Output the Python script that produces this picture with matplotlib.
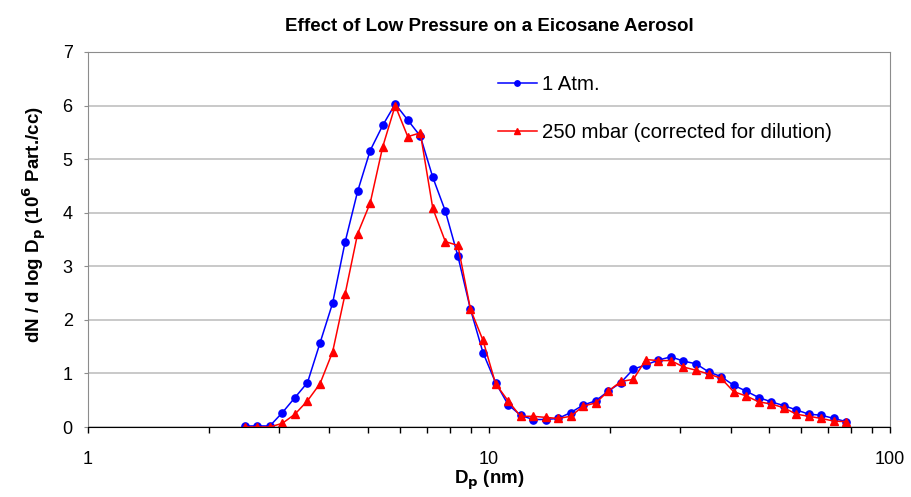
import numpy as np
import matplotlib.pyplot as plt
from matplotlib.ticker import LogLocator, NullFormatter, FixedLocator, FixedFormatter

plt.rcParams['font.family'] = ['Liberation Sans', 'DejaVu Sans']

# diametri dei canali (nm)
dp = [2.46, 2.644, 2.841, 3.053, 3.281, 3.526, 3.789, 4.072, 4.375, 4.702,
      5.053, 5.430, 5.834, 6.270, 6.738, 7.240, 7.780, 8.361, 8.985, 9.655,
      10.38, 11.15, 11.98, 12.87, 13.84, 14.87, 15.98, 17.17, 18.45, 19.83,
      21.31, 22.90, 24.60, 26.44, 28.41, 30.53, 32.81, 35.26, 37.89, 40.72,
      43.75, 47.02, 50.53, 54.30, 58.34, 62.70, 67.38, 72.40, 77.80]

# 1 Atm.
atm1 = [0.02, 0.02, 0.02, 0.27, 0.55, 0.83, 1.57, 2.31, 3.45, 4.40,
        5.16, 5.63, 6.03, 5.73, 5.43, 4.66, 4.03, 3.19, 2.20, 1.39,
        0.83, 0.42, 0.22, 0.14, 0.14, 0.16, 0.27, 0.41, 0.49, 0.67,
        0.83, 1.08, 1.16, 1.25, 1.31, 1.23, 1.18, 1.03, 0.94, 0.78,
        0.67, 0.55, 0.47, 0.40, 0.32, 0.24, 0.22, 0.16, 0.10]

# 250 mbar (corretto per diluizione)
mbar250 = [0.0, 0.0, 0.0, 0.07, 0.24, 0.49, 0.81, 1.40, 2.48, 3.61,
           4.18, 5.23, 6.00, 5.42, 5.49, 4.08, 3.46, 3.39, 2.20, 1.62,
           0.81, 0.49, 0.20, 0.20, 0.18, 0.16, 0.20, 0.39, 0.45, 0.67,
           0.85, 0.89, 1.26, 1.24, 1.24, 1.12, 1.06, 0.99, 0.91, 0.66,
           0.58, 0.47, 0.43, 0.36, 0.24, 0.20, 0.16, 0.11, 0.10]

fig = plt.figure(figsize=(9.11, 4.97), dpi=100)
ax = fig.add_axes([0.0966, 0.1408, 0.8805, 0.7546])

ax.plot(dp, atm1, color='#0000FF', lw=1.1, marker='o', ms=5.2,
        label='1 Atm.')
ax.plot(dp, mbar250, color='#FF0000', lw=1.1, marker='^', ms=6,
        label='250 mbar (corrected for dilution)')

ax.set_xscale('log')
ax.set_xlim(1, 100)
ax.set_ylim(0, 7)
ax.set_yticks(range(0, 8))
ax.xaxis.set_major_locator(FixedLocator([1, 10, 100]))
ax.xaxis.set_major_formatter(FixedFormatter(['1', '10', '100']))
ax.xaxis.set_minor_locator(LogLocator(base=10, subs=np.arange(2, 10)))
ax.xaxis.set_minor_formatter(NullFormatter())

ax.grid(axis='y', color='#c0c0c0', lw=1.2)
ax.set_axisbelow(True)
for s in ['left', 'top', 'right']:
    ax.spines[s].set_color('#8c8c8c')
ax.spines['bottom'].set_color('black')
ax.tick_params(axis='x', which='both', direction='out', length=4,
               width=1, labelsize=13, pad=13.5)
ax.tick_params(axis='y', direction='out', length=3, color='#8c8c8c',
               labelsize=13, pad=8)

ax.set_title('Effect of Low Pressure on a Eicosane Aerosol',
             fontsize=13.5, fontweight='bold', pad=15)
ax.set_xlabel('D$_\\mathbf{p}$ (nm)', fontsize=13.5, fontweight='bold',
              labelpad=0)
ax.set_ylabel('dN / d log D$_\\mathbf{p}$ (10$^\\mathbf{6}$ Part./cc)',
              fontsize=13.5, fontweight='bold')
ax.yaxis.set_label_coords(-0.049, 0.54)

ax.legend(loc='upper left', bbox_to_anchor=(0.511, 0.938), frameon=False,
          fontsize=14.7, labelspacing=1.41, handlelength=1.9,
          handletextpad=0.25, borderpad=0, borderaxespad=0, markerscale=0.75)

fig.savefig('out.png', dpi=100)
